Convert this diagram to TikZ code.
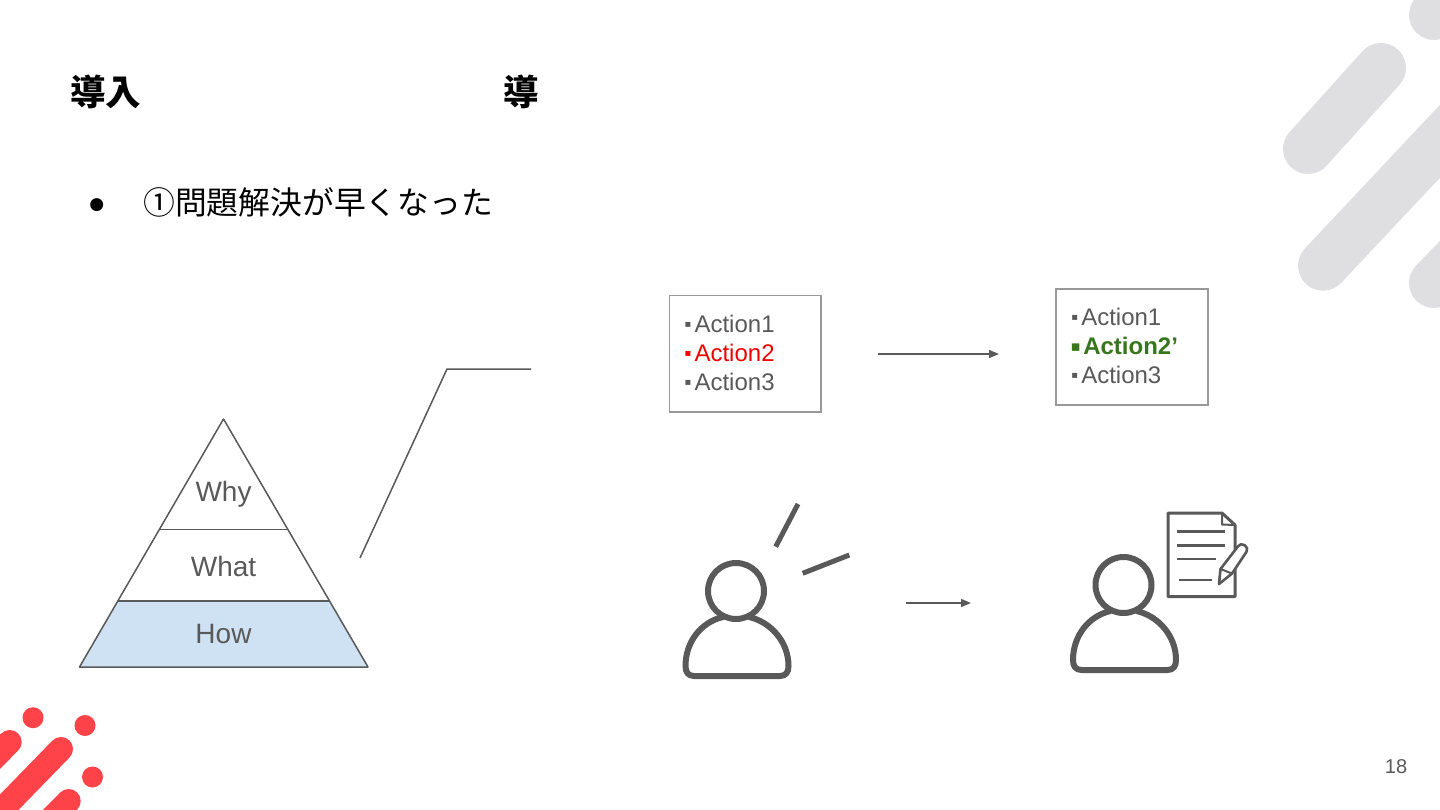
\documentclass[tikz,border=0pt]{standalone}
\usepackage{fontspec}
\setmainfont{Liberation Sans}
\newfontfamily\jpfont{Noto Sans CJK JP}
\newfontfamily\dejafont{DejaVu Sans}
\usetikzlibrary{arrows.meta}
\definecolor{ink}{HTML}{595959}
\definecolor{boxline}{HTML}{999999}
\definecolor{brandred}{HTML}{FF4349}
\definecolor{brandgray}{HTML}{DFDFE1}
\definecolor{howblue}{HTML}{CFE2F3}
\definecolor{goodgreen}{HTML}{38761D}
\definecolor{badred}{HTML}{F00000}
\tikzset{
  pillred/.style={line width=24pt,line cap=round,draw=brandred},
  pillgray/.style={line width=50pt,line cap=round,draw=brandgray},
  dotred/.style={fill=brandred},
  titletext/.style={inner sep=0pt,font={\fontsize{35.5}{36}\selectfont\jpfont\bfseries},text=black},
  bodytext/.style={inner sep=0pt,font={\fontsize{31.8}{32}\selectfont\jpfont},text=black},
  tierlabel/.style={inner sep=0pt,font={\fontsize{28}{30}\selectfont},text=ink},
  tier/.style={draw=ink,line width=1.5pt,line join=round},
  actionbox/.style={draw=boxline,line width=1.6pt,fill=white,minimum height=116.5pt,inner xsep=12pt,text width=127.5pt,align=left,font={\fontsize{24}{29}\selectfont},text=ink},
  flowarrow/.style={draw=ink,line width=1.5pt,-{Triangle[length=10pt,width=8pt]}},
  thinline/.style={draw=ink,line width=1.5pt,line join=round},
  person/.style={draw=ink,line width=6pt,line join=round},
  docline/.style={draw=ink,line width=2.6pt},
}
\newcommand{\blt}{\makebox[13pt][c]{\raisebox{5pt}{\fontsize{10}{10}\selectfont\dejafont ▪}}}
\newcommand{\bltbig}{\makebox[15pt][c]{\raisebox{3.5pt}{\fontsize{15}{15}\selectfont\dejafont ▪}}}
\begin{document}
\begin{tikzpicture}[x=1pt,y=-1pt]
\useasboundingbox (0,0) rectangle (1440,810);
\begin{scope}
\clip (0,0) rectangle (1440,810);
% grey decoration
\draw[pillgray] (1381,68) -- (1308,149);
\draw[pillgray] (1323,265.7) -- (1490,88);
\draw[pillgray] (1434,283) -- (1500,215);
\draw[pillgray] (1434,15) -- (1470,-20);
% red decoration
\fill[dotred] (33,717.7) circle (10.5);
\fill[dotred] (85,725.5) circle (10.5);
\fill[dotred] (92.5,777) circle (10.5);
\draw[pillred] (9.7,742) -- (-20,772);
\draw[pillred] (61,749) -- (-10,822);
\draw[pillred] (68.7,801) -- (40,830);
\end{scope}

% title and bullet
\node[titletext,anchor=west] (title1) at (70,92) {導入};
\node[titletext,anchor=west] (title2) at (503,92) {導};
\node[inner sep=0pt,font={\fontsize{17}{18}\selectfont\dejafont}] (bullet) at (96.7,205) {●};
\node[bodytext,anchor=west] (body) at (143,202) {①問題解決が早くなった};

% pyramid
\coordinate (apex) at (223.5,419);
\coordinate (l1) at (159,529.5);
\coordinate (r1) at (288,529.5);
\coordinate (l2) at (118,601);
\coordinate (r2) at (329,601);
\coordinate (l3) at (79.5,667);
\coordinate (r3) at (368,667);
\fill[howblue] (l2) -- (r2) -- (r3) -- (l3) -- cycle;
\draw[tier] (apex) -- (l3) -- (r3) -- cycle;
\draw[tier] (l1) -- (r1);
\draw[tier] (l2) -- (r2);
\node[tierlabel] (why) at (223.5,494) {Why};
\node[tierlabel] (what) at (223.5,566.5) {What};
\node[tierlabel] (how) at (223.5,634) {How};

% callout line
\coordinate (c1) at (360,558);
\coordinate (c2) at (447,369);
\coordinate (c3) at (531,369);
\draw[thinline] (c1) -- (c2) -- (c3);

% action boxes
\node[actionbox] (before) at (745.3,353.7) {\blt Action1\\\textcolor{badred}{\blt Action2}\\\blt Action3\par\vspace{2pt}};
\node[actionbox] (after) at (1132,347) {\blt Action1\\\textcolor{goodgreen}{\bltbig\bfseries Action2’}\\\blt Action3\par\vspace{2pt}};

\coordinate (a1s) at (878,354);
\coordinate (a1e) at (999,354);
\draw[flowarrow] (a1s) -- (a1e);
\coordinate (a2s) at (906,603);
\coordinate (a2e) at (971,603);
\draw[flowarrow] (a2s) -- (a2e);

% person left
\draw[person] (736,591) circle (28);
\draw[person] (723,617) .. controls (701,622) and (685.5,642) .. (685.5,666) .. controls (685.5,672) and (688,676) .. (694,676) -- (780,676) .. controls (786,676) and (788.5,672) .. (788.5,666) .. controls (788.5,642) and (771,622) .. (749,617);
\draw[draw=ink,line width=5pt] (798,504) -- (775.7,546.7);
\draw[draw=ink,line width=5pt] (849.3,555) -- (802.7,573.3);

% person right
\begin{scope}[shift={(387.5,-6)}]
\draw[person] (736,591) circle (28);
\draw[person] (723,617) .. controls (701,622) and (685.5,642) .. (685.5,666) .. controls (685.5,672) and (688,676) .. (694,676) -- (780,676) .. controls (786,676) and (788.5,672) .. (788.5,666) .. controls (788.5,642) and (771,622) .. (749,617);
\end{scope}

% document
\draw[draw=ink,line width=3pt,fill=white,line join=round] (1222,513) -- (1168,513) -- (1168,596.7) -- (1235,596.7) -- (1235,525) -- cycle;
\draw[draw=ink,line width=2pt,line join=round] (1222,513) -- (1222,524.5) -- (1235,525);
\draw[docline] (1177,531.7) -- (1225,531.7);
\draw[docline] (1177,545.5) -- (1225,545.5);
\draw[docline] (1177,559) -- (1216,559);
\draw[docline] (1179,580) -- (1212,580);

% pen
\draw[draw=ink,line width=2.6pt,fill=white,line join=round] (1219,584) -- (1220.5,569) -- (1238.1,546.2) .. controls (1241,541) and (1250,547) .. (1246.5,551.8) -- (1232,573.5) -- cycle;
\draw[draw=ink,line width=2pt] (1220.5,569) -- (1232,573.5);

% page number
\node[inner sep=0pt,font={\fontsize{20}{20}\selectfont},text=ink] (page) at (1396,766.5) {18};
\end{tikzpicture}
\end{document}
